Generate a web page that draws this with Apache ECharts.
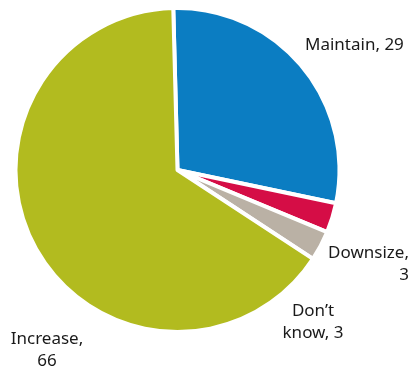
<!DOCTYPE html>
<html>
<head>
<meta charset="utf-8">
<script src="https://cdn.jsdelivr.net/npm/echarts@6/dist/echarts.min.js"></script>
<style>
  html, body { margin: 0; padding: 0; background: #fff; }
  #chart { width: 414px; height: 369px; }
</style>
</head>
<body>
<div id="chart"></div>
<script>
// Survey responses: planned change in headcount
const categories = ['Maintain', 'Downsize', 'Don’t know', 'Increase'];
const values = [29, 3, 3, 66];

const colors = ['#0b7dc2', '#d50d46', '#bab1a5', '#b2bb1f'];

// where each label sits on the canvas, and how its text wraps
const labelSpots = {
  'Maintain':   { x: 305, y: 45,  align: 'left' },
  'Downsize':   { x: 409, y: 264, align: 'right' },
  'Don’t know': { x: 313, y: 322, align: 'center' },
  'Increase':   { x: 47,  y: 350, align: 'center' }
};

function labelText(p) {
  if (p.name === 'Maintain') return p.name + ', ' + p.value;
  if (p.name === 'Don’t know') return 'Don’t\nknow, ' + p.value;
  return p.name + ',\n' + p.value;
}

const chart = echarts.init(document.getElementById('chart'));
chart.setOption({
  animation: false,
  series: [{
    type: 'pie',
    center: [177.5, 170],
    radius: [0, 162],
    startAngle: 91.5,
    clockwise: true,
    avoidLabelOverlap: false,
    data: categories.map((name, i) => ({
      name, value: values[i], itemStyle: { color: colors[i] }
    })),
    itemStyle: { borderColor: '#fff', borderWidth: 4 },
    emphasis: { disabled: true },
    label: {
      show: true,
      position: 'outside',
      formatter: labelText,
      fontFamily: 'Noto Sans',
      fontSize: 17,
      lineHeight: 22,
      color: '#1a1a1a',
      overflow: 'none',
      width: 200
    },
    labelLine: { show: false },
    labelLayout: function (params) {
      const s = labelSpots[categories[params.dataIndex]];
      return { x: s.x, y: s.y, align: s.align, verticalAlign: 'middle', hideOverlap: false, moveOverlap: false };
    }
  }]
});
</script>
</body>
</html>
